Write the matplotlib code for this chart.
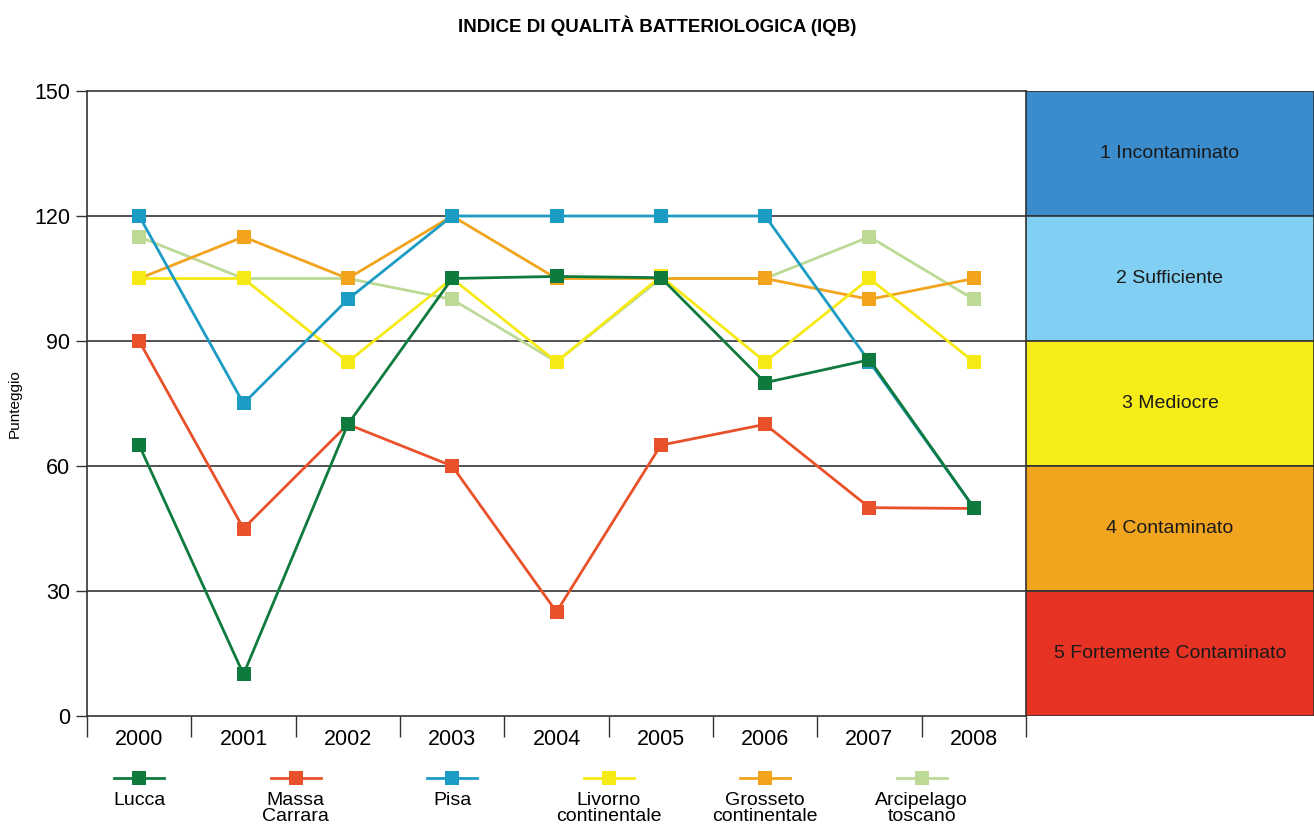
import matplotlib.pyplot as plt
from matplotlib.patches import Rectangle

plt.rcParams['font.family'] = ['Liberation Sans', 'DejaVu Sans']

# dati
anni = ['2000', '2001', '2002', '2003', '2004', '2005', '2006', '2007', '2008']
lucca = [65, 10, 70, 105, 105.5, 105.2, 80, 85.5, 50]
massa = [90, 45, 70, 60, 25, 65, 70, 50, 49.8]
pisa = [120, 75, 100, 120, 120, 120, 120, 85, 50]
livorno = [105, 105, 85, 105, 85, 105.5, 85, 105, 85]
grosseto = [105, 115, 105, 120, 105, 105, 105, 100, 105]
arcipelago = [115, 105, 105, 100, 85, 105, 105, 115, 100]

nomi = ['Lucca', 'Massa\nCarrara', 'Pisa', 'Livorno\ncontinentale',
        'Grosseto\ncontinentale', 'Arcipelago\ntoscano']
serie = [lucca, massa, pisa, livorno, grosseto, arcipelago]
colori = ['#0f7a3e', '#e8512a', '#1c9bc5', '#f7e914', '#f2a41d', '#bcda96']

classi = ['1 Incontaminato', '2 Sufficiente', '3 Mediocre', '4 Contaminato',
          '5 Fortemente Contaminato']
soglie = [150, 120, 90, 60, 30, 0]
colori_classi = ['#3a8ccc', '#81cff3', '#f6ec18', '#f1a51f', '#e63323']

fig = plt.figure(figsize=(13.14, 8.3), dpi=100)
ax = fig.add_axes([87/1314, 1-716/830, 939/1314, 625/830])
axb = fig.add_axes([1026/1314, 1-716/830, 288/1314, 625/830])
axl = fig.add_axes([87/1314, 0, 939/1314, 70/830])

x = list(range(len(anni)))
# disegno in ordine inverso: Lucca sopra
for i in reversed(range(len(serie))):
    ax.plot(x, serie[i], color=colori[i], lw=2, marker='s', ms=10,
            markeredgewidth=0, zorder=3 + (len(serie) - i))

ax.set_xlim(-0.5, len(anni) - 0.5)
ax.set_ylim(0, 150)
ax.set_yticks([0, 30, 60, 90, 120, 150])
ax.set_xticks(x)
ax.set_xticklabels(anni)
ax.set_xticks([i - 0.5 for i in range(len(anni) + 1)], minor=True)
ax.tick_params(axis='x', which='major', length=0, labelsize=15.5, pad=9)
ax.tick_params(axis='x', which='minor', length=15, width=1, color='#333333')
ax.tick_params(axis='y', length=8, width=1, color='#333333', labelsize=15.5, pad=4)
for y in [30, 60, 90, 120]:
    ax.axhline(y, color='#333333', lw=1.2, zorder=1)
for s in ax.spines.values():
    s.set_color('#333333')
    s.set_linewidth(1.2)
ax.set_ylabel('Punteggio', fontsize=11)
ax.yaxis.set_label_coords(-0.07, 0.5)

# fasce di qualità
for k in range(len(classi)):
    lo, hi = soglie[k + 1], soglie[k]
    axb.add_patch(Rectangle((0, lo), 1, hi - lo, facecolor=colori_classi[k],
                            edgecolor='#333333', lw=1.2))
    axb.text(0.5, (lo + hi) / 2, classi[k], ha='center', va='center',
             fontsize=14, color='#1a1a1a')
axb.set_xlim(0, 1)
axb.set_ylim(0, 150)
axb.axis('off')

# legenda
pos = [i * 1.5 for i in range(len(nomi))]
for p, n, c in zip(pos, nomi, colori):
    axl.plot([p - 0.24, p + 0.24], [0.75, 0.75], color=c, lw=2)
    axl.plot([p], [0.75], color=c, marker='s', ms=10, markeredgewidth=0)
    axl.text(p, 0.54, n, ha='center', va='top', fontsize=14, linespacing=0.9)
axl.set_xlim(-0.5, len(anni) - 0.5)
axl.set_ylim(0, 1)
axl.axis('off')

fig.text(0.5, 1 - 26/830, 'INDICE DI QUALITÀ BATTERIOLOGICA (IQB)',
         ha='center', va='center', fontsize=13.5, fontweight='bold')

fig.savefig('out.png', dpi=100)
